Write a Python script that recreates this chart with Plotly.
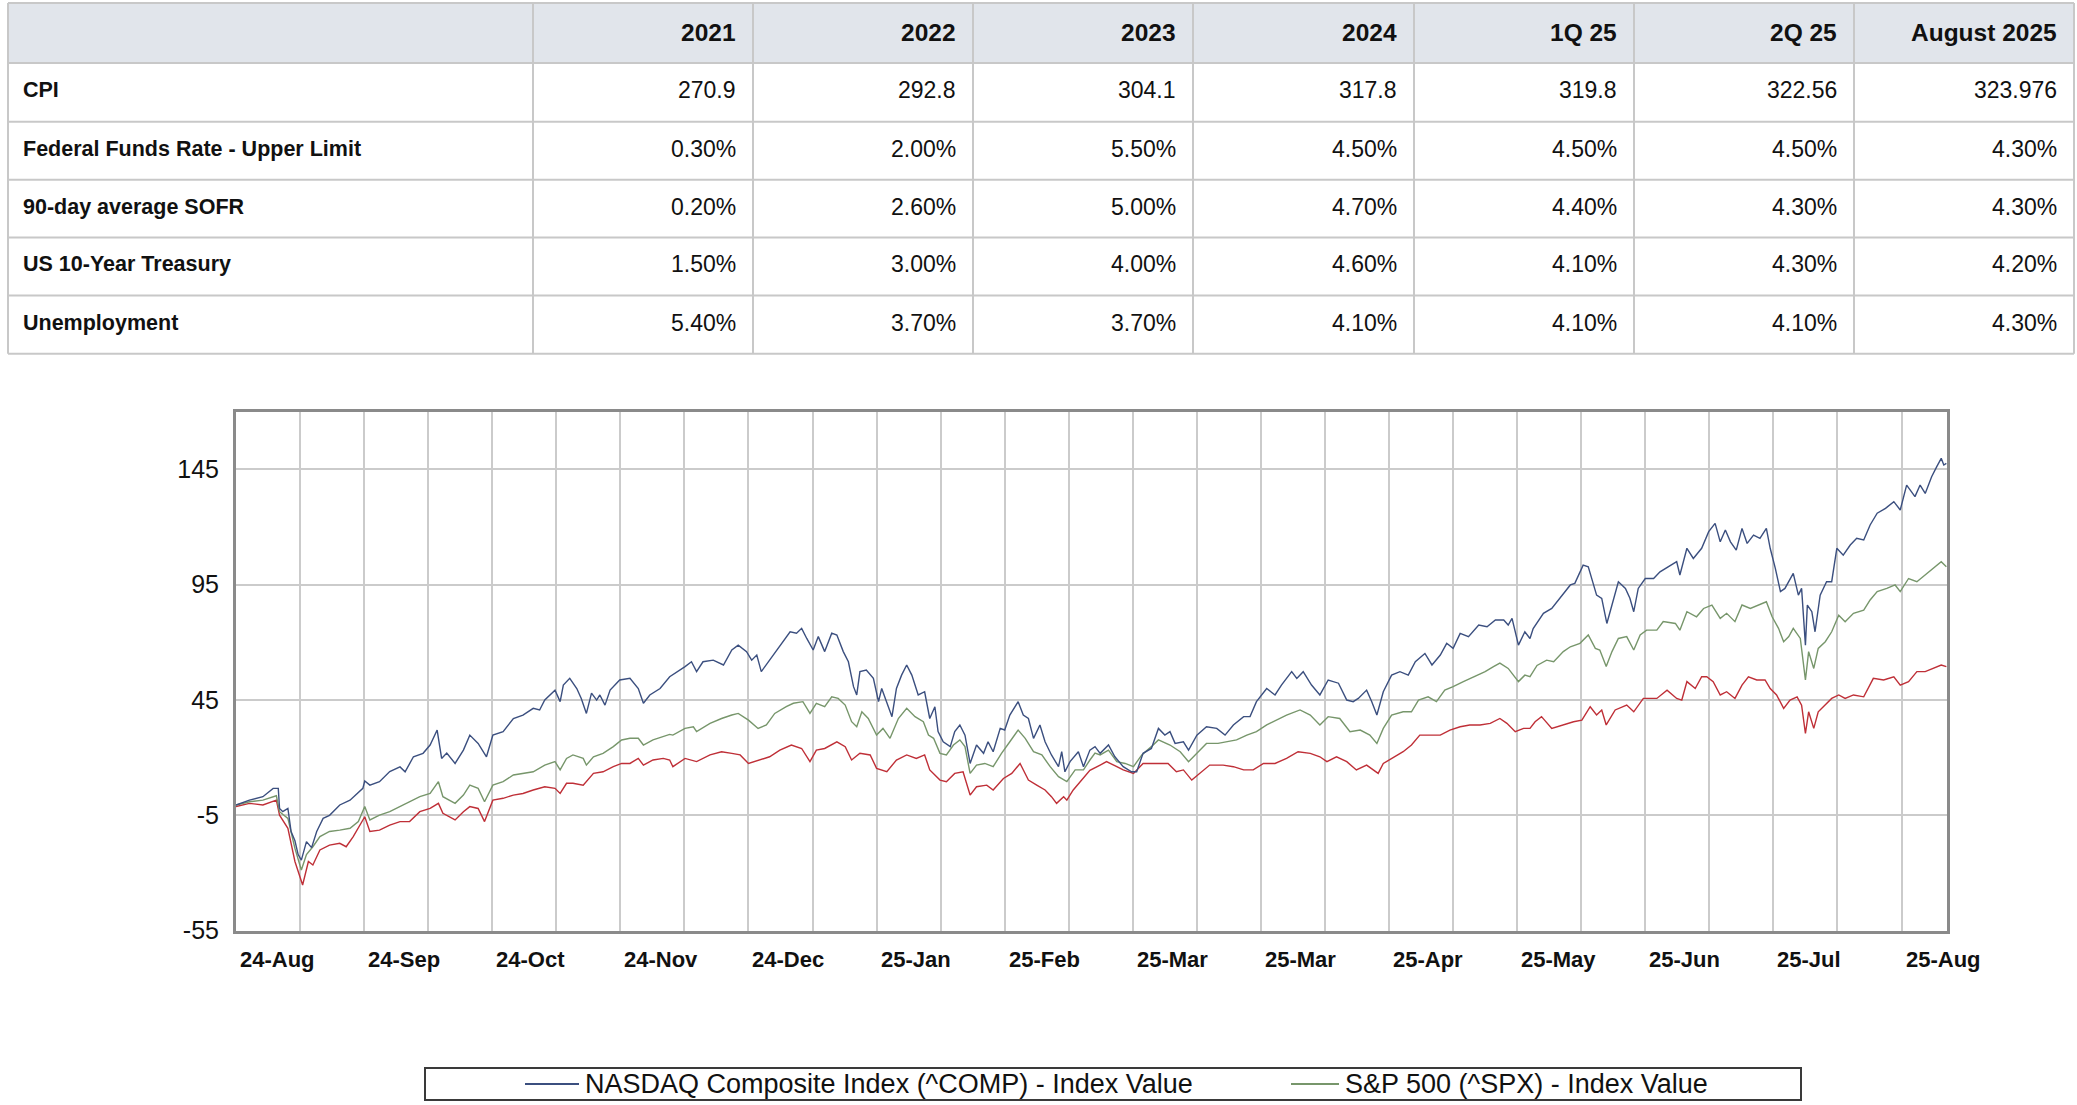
import plotly.graph_objects as go

# ---------------- data ----------------
table_columns = ["2021", "2022", "2023", "2024", "1Q 25", "2Q 25", "August 2025"]
table_rows = ["CPI", "Federal Funds Rate - Upper Limit", "90-day average SOFR",
              "US 10-Year Treasury", "Unemployment"]
cpi = ["270.9", "292.8", "304.1", "317.8", "319.8", "322.56", "323.976"]
fed_funds_upper = ["0.30%", "2.00%", "5.50%", "4.50%", "4.50%", "4.50%", "4.30%"]
sofr_90d = ["0.20%", "2.60%", "5.00%", "4.70%", "4.40%", "4.30%", "4.30%"]
treasury_10y = ["1.50%", "3.00%", "4.00%", "4.60%", "4.10%", "4.30%", "4.20%"]
unemployment = ["5.40%", "3.70%", "3.70%", "4.10%", "4.10%", "4.10%", "4.30%"]
table_values = [cpi, fed_funds_upper, sofr_90d, treasury_10y, unemployment]

x_tick_labels = ["24-Aug", "24-Sep", "24-Oct", "24-Nov", "24-Dec", "25-Jan", "25-Feb",
                 "25-Mar", "25-Mar", "25-Apr", "25-May", "25-Jun", "25-Jul", "25-Aug"]
y_tick_values = [-55, -5, 45, 95, 145]

series_names = ["NASDAQ Composite Index (^COMP) - Index Value",
                "S&P 500 (^SPX) - Index Value",
                "Third index - Index Value"]

nasdaq_points = [
    (0.0, -0.5), (0.21, 1.6), (0.42, 3.1), (0.58, 6.7), (0.66, 6.7), (0.68, -2), (0.73, -3.4), (0.81, -2),
    (0.86, -12), (0.92, -16), (0.97, -22), (1.02, -24.4), (1.10, -16.4), (1.18, -19), (1.26, -12), (1.36, -6.3),
    (1.46, -5), (1.62, -0.5), (1.78, 1.6), (1.98, 6.7), (2.01, 9.9), (2.09, 8.1), (2.24, 9.6), (2.40, 14),
    (2.56, 16), (2.64, 13.9), (2.77, 20.4), (2.92, 21.9), (3.03, 25.5), (3.14, 32), (3.21, 19.7), (3.29, 22),
    (3.42, 17.5), (3.55, 23.3), (3.65, 29.8), (3.78, 26.2), (3.91, 20.4), (4.01, 29.8), (4.17, 31.3), (4.33, 37),
    (4.48, 38.5), (4.64, 41.4), (4.74, 40.7), (4.82, 45), (4.98, 49.3), (5.06, 44.3), (5.11, 51.5), (5.21, 54.4),
    (5.32, 50), (5.39, 45.7), (5.47, 39.2), (5.55, 48), (5.63, 45), (5.68, 47.2), (5.76, 42.8), (5.84, 49.3),
    (5.99, 53.7), (6.15, 54.4), (6.28, 50), (6.36, 43.6), (6.46, 47.2), (6.62, 50), (6.77, 55.1),
    (6.82, 56), (7.01, 59.5), (7.11, 61.6), (7.19, 57.3), (7.29, 61.6), (7.45, 62.3), (7.61, 60.2), (7.74, 66.7),
    (7.84, 68.8), (7.97, 66), (8.05, 62.3), (8.13, 64.5), (8.20, 57.3), (8.33, 62.3), (8.44, 66.7), (8.54, 70.3),
    (8.65, 74.6), (8.75, 74), (8.83, 76.1), (8.91, 71.7), (9.01, 66.7), (9.09, 72.5), (9.19, 66), (9.30, 74),
    (9.38, 73.2), (9.48, 66), (9.56, 61.6), (9.64, 50.8), (9.69, 47.2), (9.74, 57.3), (9.84, 58), (9.95, 54.4),
    (10.03, 44.3), (10.08, 50), (10.18, 42.8), (10.24, 37.8), (10.31, 50), (10.39, 55.8), (10.47, 60.2),
    (10.55, 55.8), (10.65, 47.2), (10.75, 48.6), (10.83, 37), (10.91, 42.1), (10.96, 31.3), (11.04, 26.9),
    (11.15, 24.8), (11.22, 31.3), (11.30, 34.2), (11.38, 29.8), (11.46, 17.5), (11.56, 25.5), (11.67, 21.9),
    (11.74, 26.9), (11.82, 22.6), (11.93, 32.7), (12.00, 32), (12.08, 38.5), (12.21, 44.3), (12.29, 38.5),
    (12.37, 37), (12.45, 28.4), (12.55, 34.2), (12.63, 26.9), (12.73, 21.2), (12.84, 16.1), (12.89, 22.6),
    (12.94, 13.9), (13.02, 18.3), (13.15, 22.6), (13.23, 16.1), (13.33, 23.3), (13.41, 24.8), (13.49, 21.9),
    (13.62, 25.5), (13.72, 20.4), (13.85, 16.1), (13.98, 13.9), (14.06, 13.9), (14.16, 21.9), (14.29, 24),
    (14.40, 32.7), (14.50, 29.8), (14.58, 31.3), (14.66, 26.2), (14.79, 26.9), (14.87, 23.3), (15.00, 29.8),
    (15.15, 33.4), (15.31, 32.7), (15.44, 29.8), (15.57, 34.2), (15.73, 37.8), (15.83, 37.8), (15.93, 44.3),
    (16.09, 50), (16.22, 47.2), (16.32, 51.5), (16.48, 57.3), (16.56, 54.4), (16.66, 57.3), (16.79, 51.5),
    (16.92, 47.2), (17.05, 53.7), (17.21, 52.3), (17.34, 45), (17.44, 44.3), (17.52, 45.7), (17.65, 49.3),
    (17.73, 44.3), (17.81, 38.5), (17.91, 48.6), (18.04, 55.8), (18.17, 57.3), (18.30, 55.8), (18.41, 61.6),
    (18.56, 65.2), (18.67, 60.2), (18.80, 64.5), (18.90, 69.6), (19.00, 67.4), (19.11, 73.9), (19.24, 72.5),
    (19.40, 77.5), (19.53, 76.8), (19.66, 79.7), (19.79, 79.7), (19.86, 77.5), (19.92, 80.4), (20.02, 68.8),
    (20.12, 74.6), (20.20, 71.7),
    (20.25, 76), (20.41, 82.6), (20.54, 84.7), (20.67, 89.1), (20.83, 94.9), (20.90, 95.6), (21.03, 103.5),
    (21.11, 102.8), (21.16, 97.7), (21.24, 90.5), (21.32, 89.1), (21.40, 78.2), (21.48, 86.2), (21.58, 96.3),
    (21.69, 93.4), (21.76, 89.1), (21.82, 83.3), (21.89, 93.4), (22.00, 97.7), (22.13, 97.7), (22.23, 100.6),
    (22.36, 102.8), (22.49, 105), (22.54, 99.2), (22.65, 110.8), (22.75, 106.4), (22.88, 110.8), (22.99, 118),
    (23.09, 121.6), (23.17, 113.6), (23.25, 118.7), (23.33, 113.6), (23.42, 110), (23.51, 119.4), (23.59, 112.9),
    (23.69, 116.5), (23.79, 115.1), (23.89, 119.4), (23.95, 110.8), (24.03, 102.1), (24.11, 92), (24.18, 93.4),
    (24.24, 96.3), (24.31, 99.9), (24.39, 90.5), (24.44, 93.4), (24.50, 68.8), (24.53, 86.2), (24.60, 83.3),
    (24.65, 74.6), (24.73, 90.5), (24.83, 96.3), (24.91, 96.3), (24.99, 110.8), (25.09, 107.8), (25.20, 112.2),
    (25.30, 115.1), (25.41, 114.4), (25.51, 120.9), (25.62, 126), (25.75, 128.1), (25.88, 131), (25.98, 127.4),
    (26.08, 138.2), (26.21, 133.2), (26.29, 138.2), (26.37, 134.6), (26.47, 141.8), (26.55, 146.2),
    (26.62, 149.8), (26.66, 146.9), (26.70, 147.6),
]

sp500_points = [
    (0.0, -0.5), (0.21, 0.9), (0.42, 1.6), (0.63, 3.5), (0.68, -3.4), (0.81, -6.3), (0.92, -19.3), (1.02, -28.7),
    (1.10, -22), (1.20, -18.6), (1.31, -14.2), (1.46, -12), (1.62, -11.4), (1.78, -10.6), (1.91, -7.7),
    (2.01, -1.2), (2.09, -7), (2.24, -4.9), (2.40, -3.4), (2.56, -1.2), (2.71, 0.9), (2.87, 3.1), (3.03, 4.5),
    (3.16, 9.6), (3.23, 3.1), (3.42, 0.2), (3.55, 3.8), (3.65, 8.1), (3.78, 6.7), (3.88, 0.9), (4.01, 8.1),
    (4.17, 9.6), (4.33, 12.5), (4.48, 13.2), (4.64, 13.9), (4.82, 16.8), (4.98, 18.3), (5.06, 14.7), (5.16, 19.7),
    (5.26, 21.2), (5.42, 19.7), (5.47, 16.8), (5.58, 20.4), (5.73, 21.9), (5.89, 24.8), (6.02, 27.7), (6.15, 28.4),
    (6.28, 28.4), (6.36, 25.5), (6.51, 27.7), (6.67, 29.1), (6.77, 30.1),
    (6.82, 29.8), (7.01, 32.7), (7.14, 33.4), (7.19, 31.3), (7.40, 34.9), (7.58, 37), (7.74, 38.5), (7.84, 39.2),
    (8.00, 36.3), (8.15, 32.7), (8.28, 34.2), (8.41, 39.2), (8.59, 42.1), (8.70, 43.6), (8.85, 44.3), (8.96, 39.2),
    (9.06, 43.6), (9.19, 42.1), (9.30, 46.4), (9.40, 45.7), (9.51, 42.8), (9.61, 35.6), (9.69, 33.4), (9.77, 39.9),
    (9.87, 37), (10.00, 29.8), (10.10, 32.7), (10.21, 28.4), (10.34, 37), (10.47, 41.4), (10.60, 37.8),
    (10.73, 35.6), (10.81, 29.8), (10.89, 28.4), (10.99, 21.9), (11.09, 21.2), (11.20, 25.5), (11.30, 27.7),
    (11.38, 24.8), (11.46, 13.2), (11.56, 16.8), (11.69, 17.5), (11.82, 16.1), (11.95, 21.9), (12.08, 26.9),
    (12.21, 32), (12.32, 28.4), (12.45, 22.6), (12.58, 21.2), (12.71, 16.1), (12.84, 11.8), (12.97, 9.6),
    (13.10, 14.7), (13.23, 14.7), (13.33, 19), (13.41, 22), (13.49, 21.2),
    (13.62, 23.3), (13.75, 18.3), (13.88, 17.5), (14.01, 16.1), (14.14, 21.2), (14.29, 24.8), (14.40, 27.7),
    (14.58, 25.5), (14.74, 22.6), (14.87, 18.3), (15.00, 21.9), (15.15, 26.2), (15.33, 26.2), (15.46, 26.9),
    (15.62, 27.7), (15.78, 29.8), (15.93, 31.3), (16.09, 34.2), (16.25, 36.3), (16.40, 38.5), (16.61, 40.7),
    (16.77, 38.5), (16.92, 34.2), (17.05, 37.8), (17.23, 37), (17.39, 31.3), (17.55, 32), (17.70, 29.8),
    (17.81, 26.2), (17.91, 32.7), (18.04, 38.5), (18.22, 39.9), (18.35, 39.9), (18.46, 45), (18.61, 46.4),
    (18.74, 44.3), (18.87, 49.3), (19.00, 50.8), (19.16, 53), (19.32, 55.1), (19.50, 57.3), (19.63, 59.5),
    (19.73, 61), (19.86, 58.7), (20.02, 53), (20.12, 55.8), (20.20, 55.1),
    (20.31, 60), (20.46, 62.3), (20.57, 61.6), (20.72, 66), (20.83, 68.1), (20.98, 69.6), (21.11, 73.2),
    (21.22, 67.4), (21.29, 66.7), (21.39, 59.5), (21.48, 66), (21.58, 71.7), (21.71, 72.5), (21.82, 66.7),
    (21.92, 73.2), (22.02, 75.3), (22.18, 75.3), (22.28, 79), (22.47, 78.2), (22.54, 75.3), (22.65, 83.3),
    (22.80, 81.1), (22.91, 84.7), (23.04, 86.2), (23.17, 80.4), (23.27, 82.6), (23.40, 79), (23.51, 86.2),
    (23.64, 84.7), (23.77, 86.2), (23.89, 87.6), (23.98, 81.1), (24.08, 76.1), (24.16, 70.3), (24.24, 72.5),
    (24.31, 76.1), (24.42, 71.7), (24.50, 53.7), (24.55, 66), (24.63, 58.7), (24.70, 67.4), (24.81, 70.3),
    (24.91, 74.6), (25.02, 81.8), (25.12, 78.9), (25.25, 82.6), (25.41, 84), (25.51, 88.4), (25.62, 92),
    (25.77, 93.4), (25.90, 94.9), (25.98, 92), (26.11, 97.7), (26.24, 96.3), (26.37, 99.2), (26.50, 102.1),
    (26.62, 105), (26.70, 102.8),
]

third_points = [
    (0.0, -1.2), (0.21, 0.2), (0.42, -0.5), (0.63, 1.6), (0.68, -4.9), (0.81, -10.6), (0.92, -25), (1.04, -35.2),
    (1.13, -25), (1.20, -26.5), (1.31, -20), (1.46, -17.9), (1.62, -17.1), (1.72, -18.6), (1.83, -14.2),
    (2.01, -5.6), (2.09, -12), (2.24, -11.4), (2.40, -9.2), (2.56, -7.7), (2.71, -7.7), (2.87, -3.4), (3.03, -2),
    (3.16, 0.2), (3.23, -4.1), (3.42, -7), (3.55, -3.4), (3.65, -1.2), (3.78, -2), (3.88, -7.7), (4.01, 1.6),
    (4.17, 2.4), (4.33, 3.8), (4.48, 4.5), (4.64, 6), (4.82, 7.4), (4.98, 6.7), (5.06, 4.5), (5.16, 8.9),
    (5.26, 8.9), (5.42, 8.1), (5.58, 13.2), (5.73, 13.9), (5.89, 16.1), (6.02, 17.5), (6.15, 17.5), (6.28, 19.7),
    (6.36, 16.8), (6.51, 19), (6.67, 19.7), (6.77, 19),
    (6.82, 16.1), (7.01, 19.7), (7.19, 18.3), (7.40, 21.2), (7.58, 22.6), (7.74, 21.9), (7.87, 21.2), (8.00, 17.5),
    (8.18, 19), (8.33, 20.4), (8.49, 23.3), (8.67, 25.5), (8.83, 24), (8.96, 18.3), (9.06, 23.3), (9.19, 24),
    (9.38, 26.9), (9.51, 24.8), (9.61, 19), (9.74, 21.9), (9.90, 21.2), (10.00, 15.4), (10.16, 13.9), (10.31, 19),
    (10.47, 21.2), (10.62, 19.7), (10.75, 21.2), (10.83, 14.7), (10.99, 10.3), (11.09, 9.6), (11.22, 13.2),
    (11.35, 13.9), (11.46, 3.8), (11.56, 7.4), (11.72, 8.1), (11.82, 6), (11.98, 11), (12.11, 13.2), (12.24, 17.5),
    (12.37, 10.3), (12.50, 8.1), (12.63, 6), (12.73, 3.1), (12.81, 0.2), (12.92, 3.1), (12.97, 1.6), (13.07, 6),
    (13.20, 10.3), (13.33, 14.5), (13.49, 16.8),
    (13.59, 18.3), (13.75, 16.1), (13.85, 14.7), (14.01, 13.2), (14.16, 17.5), (14.32, 17.5), (14.55, 17.5),
    (14.68, 13.9), (14.79, 14.7), (14.92, 10.3), (15.05, 13.2), (15.20, 16.8), (15.41, 16.8), (15.57, 16.1),
    (15.73, 14.7), (15.88, 14.7), (16.04, 17.5), (16.22, 17.5), (16.40, 19.7), (16.58, 22.6), (16.77, 21.9),
    (16.92, 20.4), (17.03, 18.3), (17.18, 20.4), (17.34, 18.3), (17.49, 14.7), (17.65, 16.8), (17.83, 13.2),
    (17.91, 17.5), (18.04, 19.7), (18.22, 22.6), (18.35, 25.5), (18.48, 29.8), (18.64, 29.8), (18.80, 29.8),
    (18.95, 32), (19.11, 33.4), (19.26, 34.2), (19.42, 34.2), (19.58, 34.9), (19.73, 37), (19.84, 34.9),
    (19.97, 31.3), (20.10, 32.7), (20.20, 32.7),
    (20.28, 35.6), (20.38, 37.8), (20.54, 32.7), (20.72, 34.2), (20.88, 35.6), (21.01, 36.3), (21.14, 42.1),
    (21.24, 38.5), (21.32, 40.7), (21.39, 34.2), (21.53, 40.7), (21.71, 42.8), (21.82, 39.9), (21.97, 45.7),
    (22.18, 45.7), (22.34, 49.3), (22.49, 45.7), (22.57, 45), (22.65, 53), (22.78, 50), (22.88, 55.1),
    (22.96, 55.1), (23.06, 53), (23.17, 47.2), (23.27, 48.6), (23.40, 45.7), (23.51, 51.5), (23.61, 55.1),
    (23.74, 53.7), (23.87, 53.7), (23.95, 50), (24.05, 47.2), (24.16, 41.4), (24.26, 45), (24.37, 46.4),
    (24.44, 42.8), (24.50, 30.5), (24.55, 39.9), (24.63, 32.7), (24.70, 39.9), (24.81, 42.8), (24.91, 45.7),
    (25.02, 47.2), (25.12, 45.7), (25.25, 47.2), (25.41, 46.4), (25.56, 54.4), (25.72, 53.7), (25.88, 55.1),
    (25.98, 51.5), (26.11, 53), (26.24, 57.3), (26.37, 57.3), (26.50, 58.7), (26.62, 60.2), (26.70, 59.5),
]

# ---------------- layout helpers ----------------
# Design coordinates are in a 2077 x 1105 frame; the photographed page is a little taller
# (about 1121 px), so the figure is made that tall and everything is placed in paper fractions.
W, H = 2077, 1105
PAGE_H = 1121
FONT = "Liberation Sans, Arial, Helvetica, sans-serif"
COL_BLUE, COL_GREEN, COL_RED = "#3b4f7f", "#77966b", "#bf2f37"


def fx(px):
    return px / W


def fy(py):
    return 1 - py / H


PLOT_L, PLOT_R, PLOT_T, PLOT_B = 236, 1947, 411, 929

fig = go.Figure()
for pts, name, col in [(third_points, series_names[2], COL_RED),
                       (sp500_points, series_names[1], COL_GREEN),
                       (nasdaq_points, series_names[0], COL_BLUE)]:
    xs, ys = zip(*pts)
    fig.add_trace(go.Scatter(x=list(xs), y=list(ys), mode="lines", name=name,
                             line=dict(color=col, width=1.4), showlegend=False))

shapes = []
annotations = []

# ---------------- table ----------------
col_edges = [8, 533, 753, 973, 1193, 1414, 1634, 1854, 2074]
row_edges = [3, 63, 121.5, 179.5, 237, 295, 353]
GRID_T = "#c8c8c8"
shapes.append(dict(type="rect", xref="paper", yref="paper", x0=fx(col_edges[0]), x1=fx(col_edges[-1]),
                   y0=fy(row_edges[0]), y1=fy(row_edges[1]), fillcolor="#e1e5eb", line=dict(width=0),
                   layer="below"))
for ry in row_edges:
    shapes.append(dict(type="line", xref="paper", yref="paper", x0=fx(col_edges[0]), x1=fx(col_edges[-1]),
                       y0=fy(ry), y1=fy(ry), line=dict(color=GRID_T, width=2)))
for cx in col_edges:
    shapes.append(dict(type="line", xref="paper", yref="paper", x0=fx(cx), x1=fx(cx),
                       y0=fy(row_edges[0]), y1=fy(row_edges[-1]), line=dict(color=GRID_T, width=2)))

for j, head in enumerate(table_columns):
    annotations.append(dict(xref="paper", yref="paper", x=fx(col_edges[j + 2] - 15),
                            y=fy((row_edges[0] + row_edges[1]) / 2 - 1), text="<b>%s</b>" % head,
                            xanchor="right", yanchor="middle", showarrow=False,
                            font=dict(family=FONT, size=24.5, color="#111")))
for i, rname in enumerate(table_rows):
    yc = fy((row_edges[i + 1] + row_edges[i + 2]) / 2 - 2)
    annotations.append(dict(xref="paper", yref="paper", x=fx(col_edges[0] + 13), y=yc,
                            text="<b>%s</b>" % rname, xanchor="left", yanchor="middle", showarrow=False,
                            font=dict(family=FONT, size=21.5, color="#111")))
    for j, val in enumerate(table_values[i]):
        annotations.append(dict(xref="paper", yref="paper", x=fx(col_edges[j + 2] - 15), y=yc,
                                text=val, xanchor="right", yanchor="middle", showarrow=False,
                                font=dict(family=FONT, size=23, color="#111")))

# ---------------- x tick labels (left-aligned at every other gridline) ----------------
for k, lab in enumerate(x_tick_labels):
    annotations.append(dict(xref="x", yref="paper", x=2 * k, y=fy(958), text="<b>%s</b>" % lab,
                            xanchor="left", yanchor="middle", xshift=2, showarrow=False,
                            font=dict(family=FONT, size=22, color="#111")))

# ---------------- legend box ----------------
LEG_T, LEG_B = 1066, 1098
LEG_Y = (LEG_T + LEG_B) / 2
shapes.append(dict(type="rect", xref="paper", yref="paper", x0=fx(425), x1=fx(1801), y0=fy(LEG_B), y1=fy(LEG_T),
                   line=dict(color="#3a3a3a", width=2), fillcolor="rgba(0,0,0,0)"))
for (lx0, lx1, col, name) in [(525, 579, COL_BLUE, series_names[0]), (1291, 1339, COL_GREEN, series_names[1])]:
    shapes.append(dict(type="line", xref="paper", yref="paper", x0=fx(lx0), x1=fx(lx1), y0=fy(LEG_Y),
                       y1=fy(LEG_Y), line=dict(color=col, width=2)))
    annotations.append(dict(xref="paper", yref="paper", x=fx(lx1 + 4), y=fy(LEG_Y), text=name,
                            xanchor="left", yanchor="middle", showarrow=False,
                            font=dict(family=FONT, size=27, color="#111")))

# At load the body has its default 8px margin; the figure is sized to fit inside it, then the
# margin is removed and the figure is grown to the full page.
fig.update_layout(
    width=W - 16, height=PAGE_H - 16,
    margin=dict(l=0, r=0, t=0, b=0),
    paper_bgcolor="white", plot_bgcolor="white",
    showlegend=False,
    shapes=shapes, annotations=annotations,
    xaxis=dict(domain=[fx(PLOT_L), fx(PLOT_R)], range=[0, 26.71], tickmode="array",
               tickvals=list(range(0, 27)), showticklabels=False, ticks="",
               showgrid=True, gridcolor="#cbcbcb", gridwidth=1.5, zeroline=False,
               showline=True, mirror=True, linecolor="#8a8a8a", linewidth=3),
    yaxis=dict(domain=[fy(PLOT_B), fy(PLOT_T)], range=[-55, 170], tickmode="array",
               tickvals=y_tick_values, ticktext=[str(v) for v in y_tick_values],
               ticks="", ticklabelstandoff=9,
               tickfont=dict(family=FONT, size=25, color="#111"),
               showgrid=True, gridcolor="#cbcbcb", gridwidth=1.5, zeroline=False,
               showline=True, mirror=True, linecolor="#8a8a8a", linewidth=3),
)

post_js = ("document.body.style.margin='0';document.body.style.overflow='hidden';"
           "Plotly.relayout('{plot_id}', {width: %d, height: %d});" % (W, PAGE_H))
fig.write_html("out.html", config={"displayModeBar": False}, post_script=post_js)
